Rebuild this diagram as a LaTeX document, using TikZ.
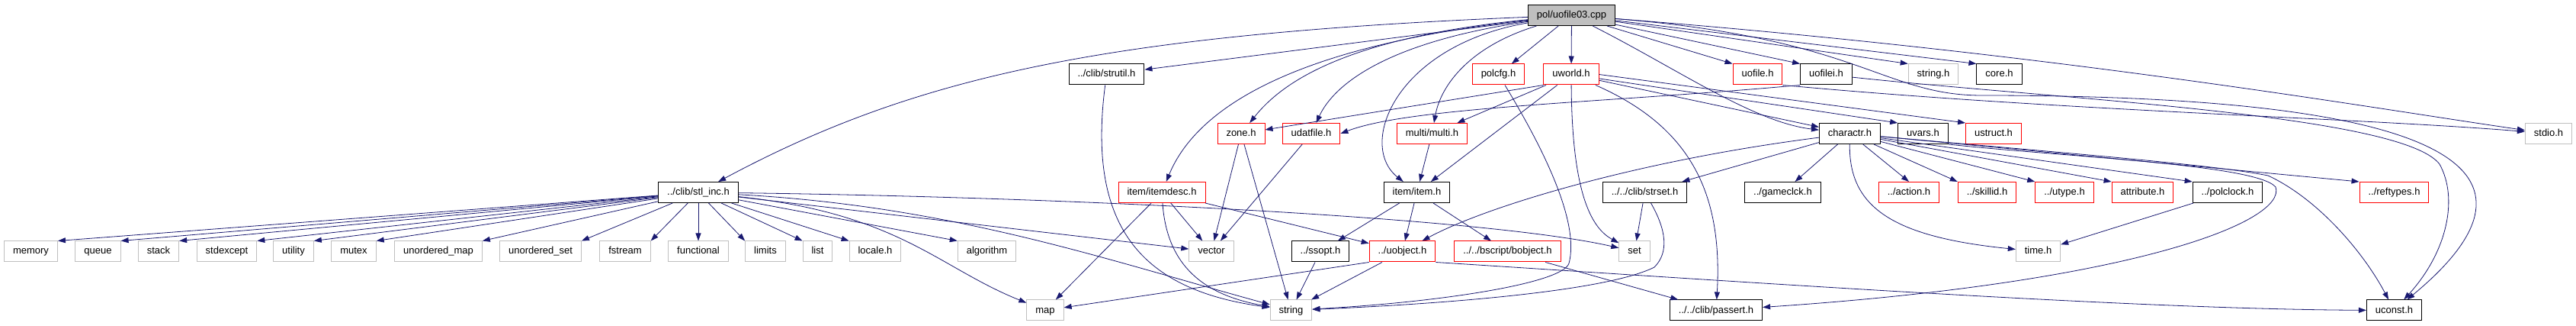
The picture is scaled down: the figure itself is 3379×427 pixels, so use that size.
\documentclass[tikz,border=0pt]{standalone}
\usepackage{fontspec}
\setmainfont{Liberation Sans}
\usepackage{xcolor}
\definecolor{edgeblue}{RGB}{25, 25, 112}
\definecolor{boxgray}{RGB}{191, 191, 191}
\usepackage{tikz}
\usetikzlibrary{
    arrows.meta
}
\tikzstyle{hfile} = [
    rectangle, draw=black,
    line width=1pt,
    minimum height=27pt,
    inner xsep=11.5pt,
    inner ysep=0pt,
    text height=9.5pt,
    text depth=2.5pt,
    text centered,
    fill=white,
    font=\fontsize{13pt}{15pt}\selectfont
]
\tikzstyle{redfile} = [hfile, draw=red]
\tikzstyle{sysfile} = [hfile, draw=boxgray]
\tikzstyle{mainfile} = [hfile, fill=boxgray]
\tikzstyle{arrow} = [
    edgeblue,
    line width=0.8pt,
    -{Triangle[length=10pt,width=7pt]}
]

\begin{document}
\begin{tikzpicture}[x=1pt, y=-1pt]

\useasboundingbox (0,0) rectangle (3379,427);

% main file
\node (main) [mainfile] at (2061.5,20) {pol/uofile03.cpp};

% first level
\node (strutil) [hfile] at (1451.5,97.5) {../clib/strutil.h};
\node (polcfg) [redfile] at (1965.5,97.5) {polcfg.h};
\node (uworld) [redfile] at (2061,97.5) {uworld.h};
\node (uofile) [redfile] at (2305.5,97.5) {uofile.h};
\node (uofilei) [hfile] at (2395.5,97.5) {uofilei.h};
\node (stringh) [sysfile] at (2536,97.5) {string.h};
\node (core) [hfile] at (2622.5,97.5) {core.h};

\node (zone) [redfile] at (1628,175) {zone.h};
\node (udatfile) [redfile] at (1720,175) {udatfile.h};
\node (multi) [redfile] at (1878.5,175) {multi/multi.h};
\node (charactr) [hfile] at (2426.5,175) {charactr.h};
\node (uvars) [hfile] at (2522.5,175) {uvars.h};
\node (ustruct) [redfile] at (2615,175) {ustruct.h};
\node (stdio) [sysfile] at (3343,175) {stdio.h};

\node (stlinc) [hfile] at (916,252) {../clib/stl\_inc.h};
\node (itemdesc) [redfile] at (1524,252) {item/itemdesc.h};
\node (item) [hfile] at (1858.5,252) {item/item.h};
\node (strset) [hfile] at (2157.5,252) {../../clib/strset.h};
\node (gameclck) [hfile] at (2338.5,252) {../gameclck.h};
\node (action) [redfile] at (2504,252) {../action.h};
\node (skillid) [redfile] at (2606.5,252) {../skillid.h};
\node (utype) [redfile] at (2708,252) {../utype.h};
\node (attribute) [redfile] at (2810.5,252) {attribute.h};
\node (polclock) [hfile] at (2922,252) {../polclock.h};
\node (reftypes) [redfile] at (3140.5,252) {../reftypes.h};

% system headers
\node (memory) [sysfile] at (40.5,329.5) {memory};
\node (queue) [sysfile] at (128.5,329.5) {queue};
\node (stack) [sysfile] at (208,329.5) {stack};
\node (stdexcept) [sysfile] at (297.5,329.5) {stdexcept};
\node (utility) [sysfile] at (385,329.5) {utility};
\node (mutex) [sysfile] at (464,329.5) {mutex};
\node (umap) [sysfile] at (575,329.5) {unordered\_map};
\node (uset) [sysfile] at (709,329.5) {unordered\_set};
\node (fstream) [sysfile] at (820,329.5) {fstream};
\node (functional) [sysfile] at (916,329.5) {functional};
\node (limits) [sysfile] at (1004,329.5) {limits};
\node (list) [sysfile] at (1072.5,329.5) {list};
\node (locale) [sysfile] at (1148,329.5) {locale.h};
\node (algorithm) [sysfile] at (1294.5,329.5) {algorithm};
\node (vector) [sysfile] at (1589,329.5) {vector};
\node (ssopt) [hfile] at (1732,329.5) {../ssopt.h};
\node (uobject) [redfile] at (1839.5,329.5) {../uobject.h};
\node (bobject) [redfile] at (1977.5,329.5) {../../bscript/bobject.h};
\node (set) [sysfile] at (2144,329.5) {set};
\node (timeh) [sysfile] at (2673.5,329.5) {time.h};

\node (map) [sysfile] at (1371,406.5) {map};
\node (string) [sysfile] at (1693.5,406.5) {string};
\node (passert) [hfile] at (2251,406.5) {../../clib/passert.h};
\node (uconst) [hfile] at (3140.5,406.5) {uconst.h};

% includes of the main file
\draw [arrow] (main) .. controls (1450,45) and (1200,100) .. (stlinc);
\draw [arrow] (main) -- (strutil);
\draw [arrow] (main) .. controls (1760,50) and (1680,110) .. (zone);
\draw [arrow] (main) .. controls (1820,55) and (1750,110) .. (udatfile);
\draw [arrow] (main) .. controls (1700,60) and (1570,140) .. (itemdesc);
\draw [arrow] (main) .. controls (1930,60) and (1890,110) .. (multi);
\draw [arrow] (main) .. controls (1830,60) and (1780,190) .. (item);
\draw [arrow] (main) -- (polcfg);
\draw [arrow] (main) -- (uworld);
\draw [arrow] (main) -- (uofile.north west);
\draw [arrow] (main) -- (uofilei.north west);
\draw [arrow] (main) -- (stringh.north west);
\draw [arrow] (main) -- (core.north west);
\draw [arrow] (main) .. controls (2200,90) and (2300,160) .. (charactr);
\draw [arrow] (main) .. controls (2700,70) and (3100,140) .. (stdio);
\draw [arrow] (main) .. controls (2440,50) and (2470,125) .. (2600,125)
              .. controls (3300,125) and (3330,250) .. (uconst);

% uworld.h
\draw [arrow] (uworld.south west) -- (zone);
\draw [arrow] (uworld) -- (multi);
\draw [arrow] (uworld) -- (item);
\draw [arrow] (uworld) .. controls (2062,260) and (2090,300) .. (set);
\draw [arrow] (uworld) .. controls (2215,165) and (2260,250) .. (passert);
\draw [arrow] (uworld) -- (charactr);
\draw [arrow] (uworld) -- (uvars.north west);
\draw [arrow] (uworld.east) -- (ustruct.north west);

% uofile.h, uofilei.h
\draw [arrow] (uofile.south east) .. controls (2700,145) and (3100,155) .. (stdio);
\draw [arrow] (uofilei.south west) .. controls (2100,135) and (1850,140) .. (udatfile.east);
\draw [arrow] (uofilei) .. controls (2700,130) and (3150,150) .. (3200,215)
              .. controls (3225,260) and (3210,330) .. (uconst);

% charactr.h
\draw [arrow] (charactr) -- (gameclck);
\draw [arrow] (charactr) -- (action.north);
\draw [arrow] (charactr) -- (skillid.north west);
\draw [arrow] (charactr) -- (utype.north west);
\draw [arrow] (charactr) -- (attribute.north west);
\draw [arrow] (charactr) -- (polclock.north west);
\draw [arrow] (charactr) -- (reftypes.north west);
\draw [arrow] (charactr) .. controls (2425,270) and (2480,310) .. (timeh);
\draw [arrow] (charactr) .. controls (2700,200) and (2900,215) .. (2975,230)
              .. controls (3040,260) and (3100,330) .. (uconst);
\draw [arrow] (charactr) -- (strset);
\draw [arrow] (charactr) .. controls (2150,210) and (1950,270) .. (uobject);
\draw [arrow] (uvars.south east) .. controls (2700,205) and (2960,215) .. (2985,245)
              .. controls (3000,290) and (2800,370) .. (passert);
\draw [arrow] (polclock) -- (timeh);

% stl_inc.h
\draw [arrow] (stlinc) -- (memory.north east);
\draw [arrow] (stlinc) -- (queue.north east);
\draw [arrow] (stlinc) -- (stack.north east);
\draw [arrow] (stlinc) -- (stdexcept.north east);
\draw [arrow] (stlinc) -- (utility.north east);
\draw [arrow] (stlinc) -- (mutex.north east);
\draw [arrow] (stlinc) -- (umap.north east);
\draw [arrow] (stlinc) -- (uset.north east);
\draw [arrow] (stlinc) -- (fstream.north east);
\draw [arrow] (stlinc) -- (functional);
\draw [arrow] (stlinc) -- (limits.north west);
\draw [arrow] (stlinc) -- (list.north west);
\draw [arrow] (stlinc) -- (locale.north west);
\draw [arrow] (stlinc) -- (algorithm.north west);
\draw [arrow] (stlinc) -- (vector);
\draw [arrow] (stlinc) .. controls (1180,280) and (1230,350) .. (map);
\draw [arrow] (stlinc) .. controls (1250,270) and (1450,340) .. (string);
\draw [arrow] (stlinc) .. controls (1400,258) and (1950,285) .. (set);

% the rest
\draw [arrow] (strutil) .. controls (1425,300) and (1500,380) .. (string);
\draw [arrow] (polcfg) .. controls (2040,220) and (2070,300) .. (2058,345)
              .. controls (2050,370) and (1900,395) .. (string);
\draw [arrow] (zone) -- (vector);
\draw [arrow] (zone) -- (string);
\draw [arrow] (udatfile) -- (vector);
\draw [arrow] (multi) -- (item);
\draw [arrow] (itemdesc) -- (map);
\draw [arrow] (itemdesc) -- (vector);
\draw [arrow] (itemdesc) .. controls (1530,340) and (1570,385) .. (string);
\draw [arrow] (itemdesc) -- (uobject);
\draw [arrow] (item) -- (ssopt);
\draw [arrow] (item) -- (uobject);
\draw [arrow] (item) -- (bobject);
\draw [arrow] (strset) -- (set);
\draw [arrow] (strset) .. controls (2185,300) and (2190,330) .. (2170,350)
              .. controls (2100,385) and (1850,400) .. (string);
\draw [arrow] (ssopt) -- (string);
\draw [arrow] (uobject) -- (string);
\draw [arrow] (uobject.south west) -- (map);
\draw [arrow] (uobject.south east) .. controls (2300,370) and (2800,405) .. (uconst);
\draw [arrow] (bobject) -- (passert);

\end{tikzpicture}
\end{document}
